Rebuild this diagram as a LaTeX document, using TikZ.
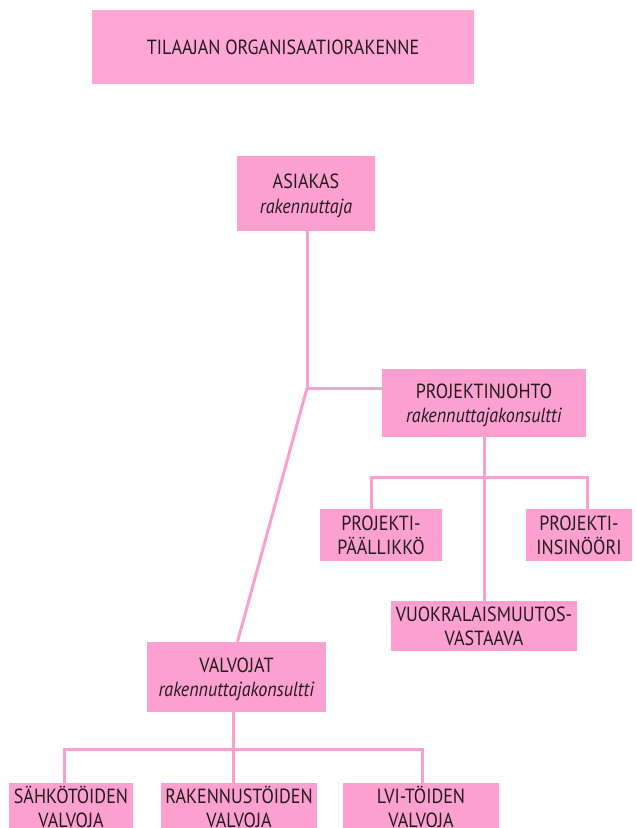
\documentclass[tikz,border=0pt]{standalone}
\usepackage{fontspec}
\setmainfont{PT Sans}[FakeStretch=0.88]
\definecolor{boxpink}{RGB}{252,160,208}
\definecolor{titlepink}{RGB}{255,166,212}
\definecolor{linepink}{RGB}{250,160,206}
\definecolor{txt}{RGB}{34,28,32}
\begin{document}
\begin{tikzpicture}[x=1pt,y=-1pt,
  box/.style={fill=boxpink, inner sep=0pt, align=center, text=txt, text depth=0pt,
    font=\fontsize{20.5}{24.5}\selectfont},
  link/.style={draw=linepink, line width=3pt}]
\useasboundingbox (0,0) rectangle (636,828);
\clip (0,0) rectangle (636,828);

% heading
\node[box, fill=titlepink, minimum width=382pt, minimum height=74pt] (title) at (283,47)
  {TILAAJAN ORGANISAATIORAKENNE};

% client and project management
\node[box, minimum width=138pt, minimum height=75pt] (asiakas) at (306,193.5)
  {ASIAKAS\\\textit{rakennuttaja}};
\node[box, minimum width=204pt, minimum height=68pt] (pj) at (484,403)
  {PROJEKTINJOHTO\\\textit{rakennuttajakonsultti}};
\node[box, minimum width=122pt, minimum height=52pt] (pp) at (381,535)
  {PROJEKTI-\\PÄÄLLIKKÖ};
\node[box, minimum width=106pt, minimum height=52pt] (pi) at (579,535)
  {PROJEKTI-\\INSINÖÖRI};
\node[box, minimum width=186pt, minimum height=50pt] (vm) at (484,626)
  {VUOKRALAISMUUTOS-\\VASTAAVA};

% supervision
\node[box, minimum width=179pt, minimum height=70pt] (valv) at (236.5,677)
  {VALVOJAT\\\textit{rakennuttajakonsultti}};
\node[box, minimum width=124pt, minimum height=48pt] (sv) at (71,807)
  {SÄHKÖTÖIDEN\\VALVOJA};
\node[box, minimum width=156pt, minimum height=48pt] (rv) at (239,807)
  {RAKENNUSTÖIDEN\\VALVOJA};
\node[box, minimum width=156pt, minimum height=48pt] (lv) at (421,807)
  {LVI-TÖIDEN\\VALVOJA};

% connectors
\coordinate (j) at (307,388);
\draw[link] (asiakas.south -| j) -- (j) -- (j -| pj.west);
\draw[link] (j) -- ([xshift=1pt]valv.north);

\coordinate (pbar) at (484,477);
\draw[link] (pj.south) -- (vm.north);
\draw[link] ([xshift=-10pt]pp.north) |- (pbar) -| ([xshift=8pt]pi.north);

\coordinate (vbar) at (233,749);
\draw[link] (valv.south -| vbar) -- (rv.north -| vbar);
\draw[link] ([xshift=-7pt]sv.north) |- (vbar) -| ([xshift=1pt]lv.north);
\end{tikzpicture}
\end{document}
